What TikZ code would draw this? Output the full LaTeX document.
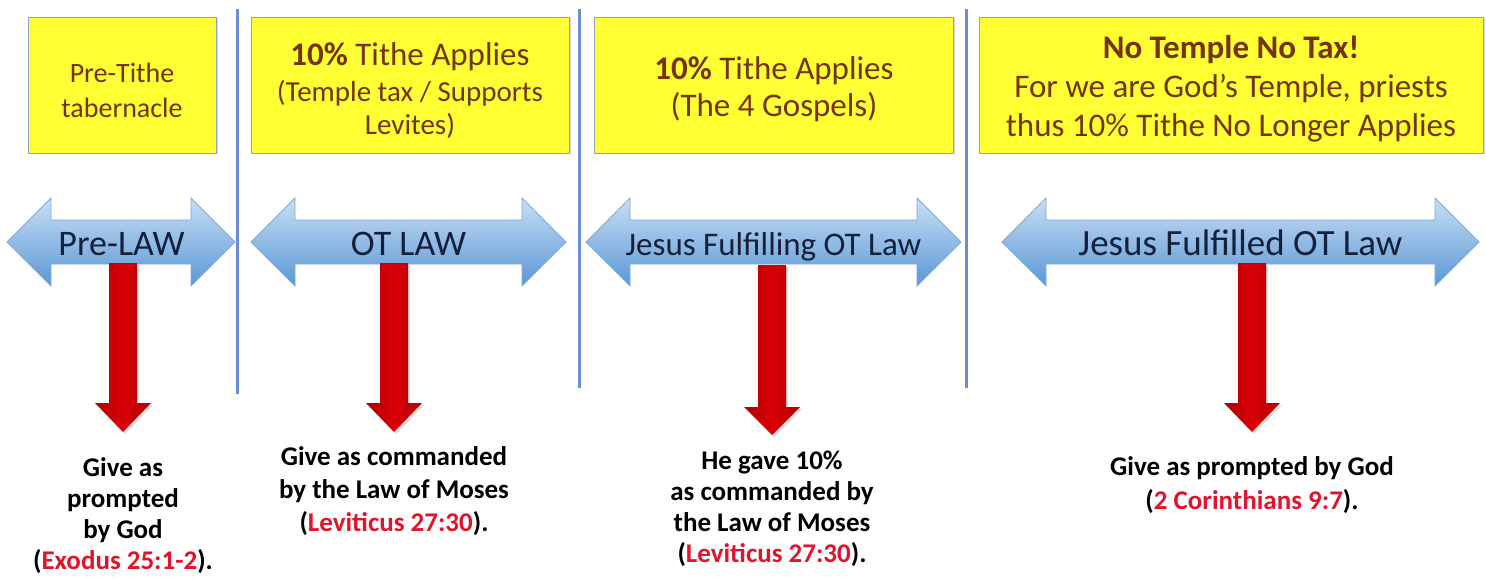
\documentclass[tikz,border=0pt]{standalone}
\usepackage{fontspec}
\setmainfont{Carlito}
\usetikzlibrary{shadows}
\definecolor{boxyellow}{HTML}{FFFF33}
\definecolor{boxedge}{HTML}{8FA3C0}
\definecolor{topbrown}{HTML}{74330C}
\definecolor{vblue}{HTML}{6A8FD0}
\definecolor{arrowtop}{HTML}{C8DEF4}
\definecolor{arrowbot}{HTML}{5A98D6}
\definecolor{arrowedge}{HTML}{7FA9DB}
\definecolor{arrowtext}{HTML}{15203A}
\definecolor{reddark}{HTML}{B00000}
\definecolor{redlight}{HTML}{DA0008}
\definecolor{refred}{HTML}{E0142A}
\newcommand\BlueArrow[2]{\path[bluearrow] (#1,242) -- (#1+44,198) -- (#1+44,220) -- (#2-44,220) -- (#2-44,198) -- (#2,242) -- (#2-44,286) -- (#2-44,264) -- (#1+44,264) -- (#1+44,286) -- cycle;}
\newcommand\RedArrow[4]{\path[redarrow] (#1-14,#2) -- (#1+14,#2) -- (#1+14,#3) -- (#1+28,#3) -- (#1,#4) -- (#1-28,#3) -- (#1-14,#3) -- cycle;}
\begin{document}
\begin{tikzpicture}[x=1pt,y=-1pt,
 ybox/.style={fill=boxyellow,draw=boxedge,line width=0.8pt,inner sep=0pt,drop shadow={opacity=0.3,shadow xshift=1.5pt,shadow yshift=-1.5pt}},
 toptext/.style={text=topbrown,align=center,inner sep=0pt},
 bluearrow/.style={top color=arrowtop,bottom color=arrowbot,draw=arrowedge,line width=0.8pt},
 lawtext/.style={text=arrowtext,anchor=base,inner sep=0pt},
 redarrow/.style={left color=reddark,right color=reddark,middle color=redlight,drop shadow={opacity=0.25,shadow xshift=2pt,shadow yshift=-2pt}},
 vline/.style={draw=vblue,line width=3pt},
 givetext/.style={align=center,inner sep=0pt}]
\path[fill=white,use as bounding box] (0,0) rectangle (1486,580);
% separators
\draw[vline] (237,9) -- (237,394);
\draw[vline] (579,9) -- (579,388);
\draw[vline] (966,9) -- (966,388);
% yellow boxes
\node[ybox,minimum width=188pt,minimum height=136pt] (box1) at (122,85) {};
\node[ybox,minimum width=318pt,minimum height=136pt] (box2) at (410,85) {};
\node[ybox,minimum width=359pt,minimum height=136pt] (box3) at (773.5,85) {};
\node[ybox,minimum width=504pt,minimum height=136pt] (box4) at (1231,85) {};
\node[toptext,font=\fontsize{28}{35}\selectfont] (tx1) at (122,90) {Pre-Tithe\\tabernacle};
\node[toptext,font=\fontsize{29}{33}\selectfont] (tx2) at (410,91) {{\fontsize{33}{33}\selectfont\textbf{10\%} Tithe Applies}\\[3pt](Temple tax / Supports\\Levites)};
\node[toptext,font=\fontsize{33}{37}\selectfont] (tx3) at (774,89) {\textbf{10\%} Tithe Applies\\(The 4 Gospels)};
\node[toptext,font=\fontsize{33}{39}\selectfont] (tx4) at (1231,89) {\textbf{No Temple No Tax!}\\For we are God’s Temple, priests\\thus 10\% Tithe No Longer Applies};
% blue double arrows
\BlueArrow{7}{235}
\BlueArrow{251}{566}
\BlueArrow{586}{961}
\BlueArrow{1002}{1479}
\node[lawtext,font=\fontsize{36}{40}\selectfont] (law1) at (121.5,255) {Pre-LAW};
\node[lawtext,font=\fontsize{36}{40}\selectfont] (law2) at (408.5,255) {OT LAW};
\node[lawtext,font=\fontsize{33}{40}\selectfont] (law3) at (773.5,255) {Jesus Fulfilling OT Law};
\node[lawtext,font=\fontsize{37}{40}\selectfont] (law4) at (1240.5,255) {Jesus Fulfilled OT Law};
% red arrows
\RedArrow{123}{263}{403}{432}
\RedArrow{394}{263}{403}{432}
\RedArrow{772}{265}{407}{435}
\RedArrow{1252}{263}{403}{432}
% bottom texts
\node[givetext,font=\bfseries\fontsize{27}{31}\selectfont] (give1) at (123,516) {Give as\\prompted\\by God\\(\textcolor{refred}{Exodus 25:1-2}).};
\node[givetext,font=\bfseries\fontsize{27}{33}\selectfont] (give2) at (394,491) {Give as commanded\\by the Law of Moses\\(\textcolor{refred}{Leviticus 27:30}).};
\node[givetext,font=\bfseries\fontsize{27}{31}\selectfont] (give3) at (772,509) {He gave 10\%\\as commanded by\\the Law of Moses\\(\textcolor{refred}{Leviticus 27:30}).};
\node[givetext,font=\bfseries\fontsize{27}{34}\selectfont] (give4) at (1252,485) {Give as prompted by God\\(\textcolor{refred}{2 Corinthians 9:7}).};
\end{tikzpicture}
\end{document}
